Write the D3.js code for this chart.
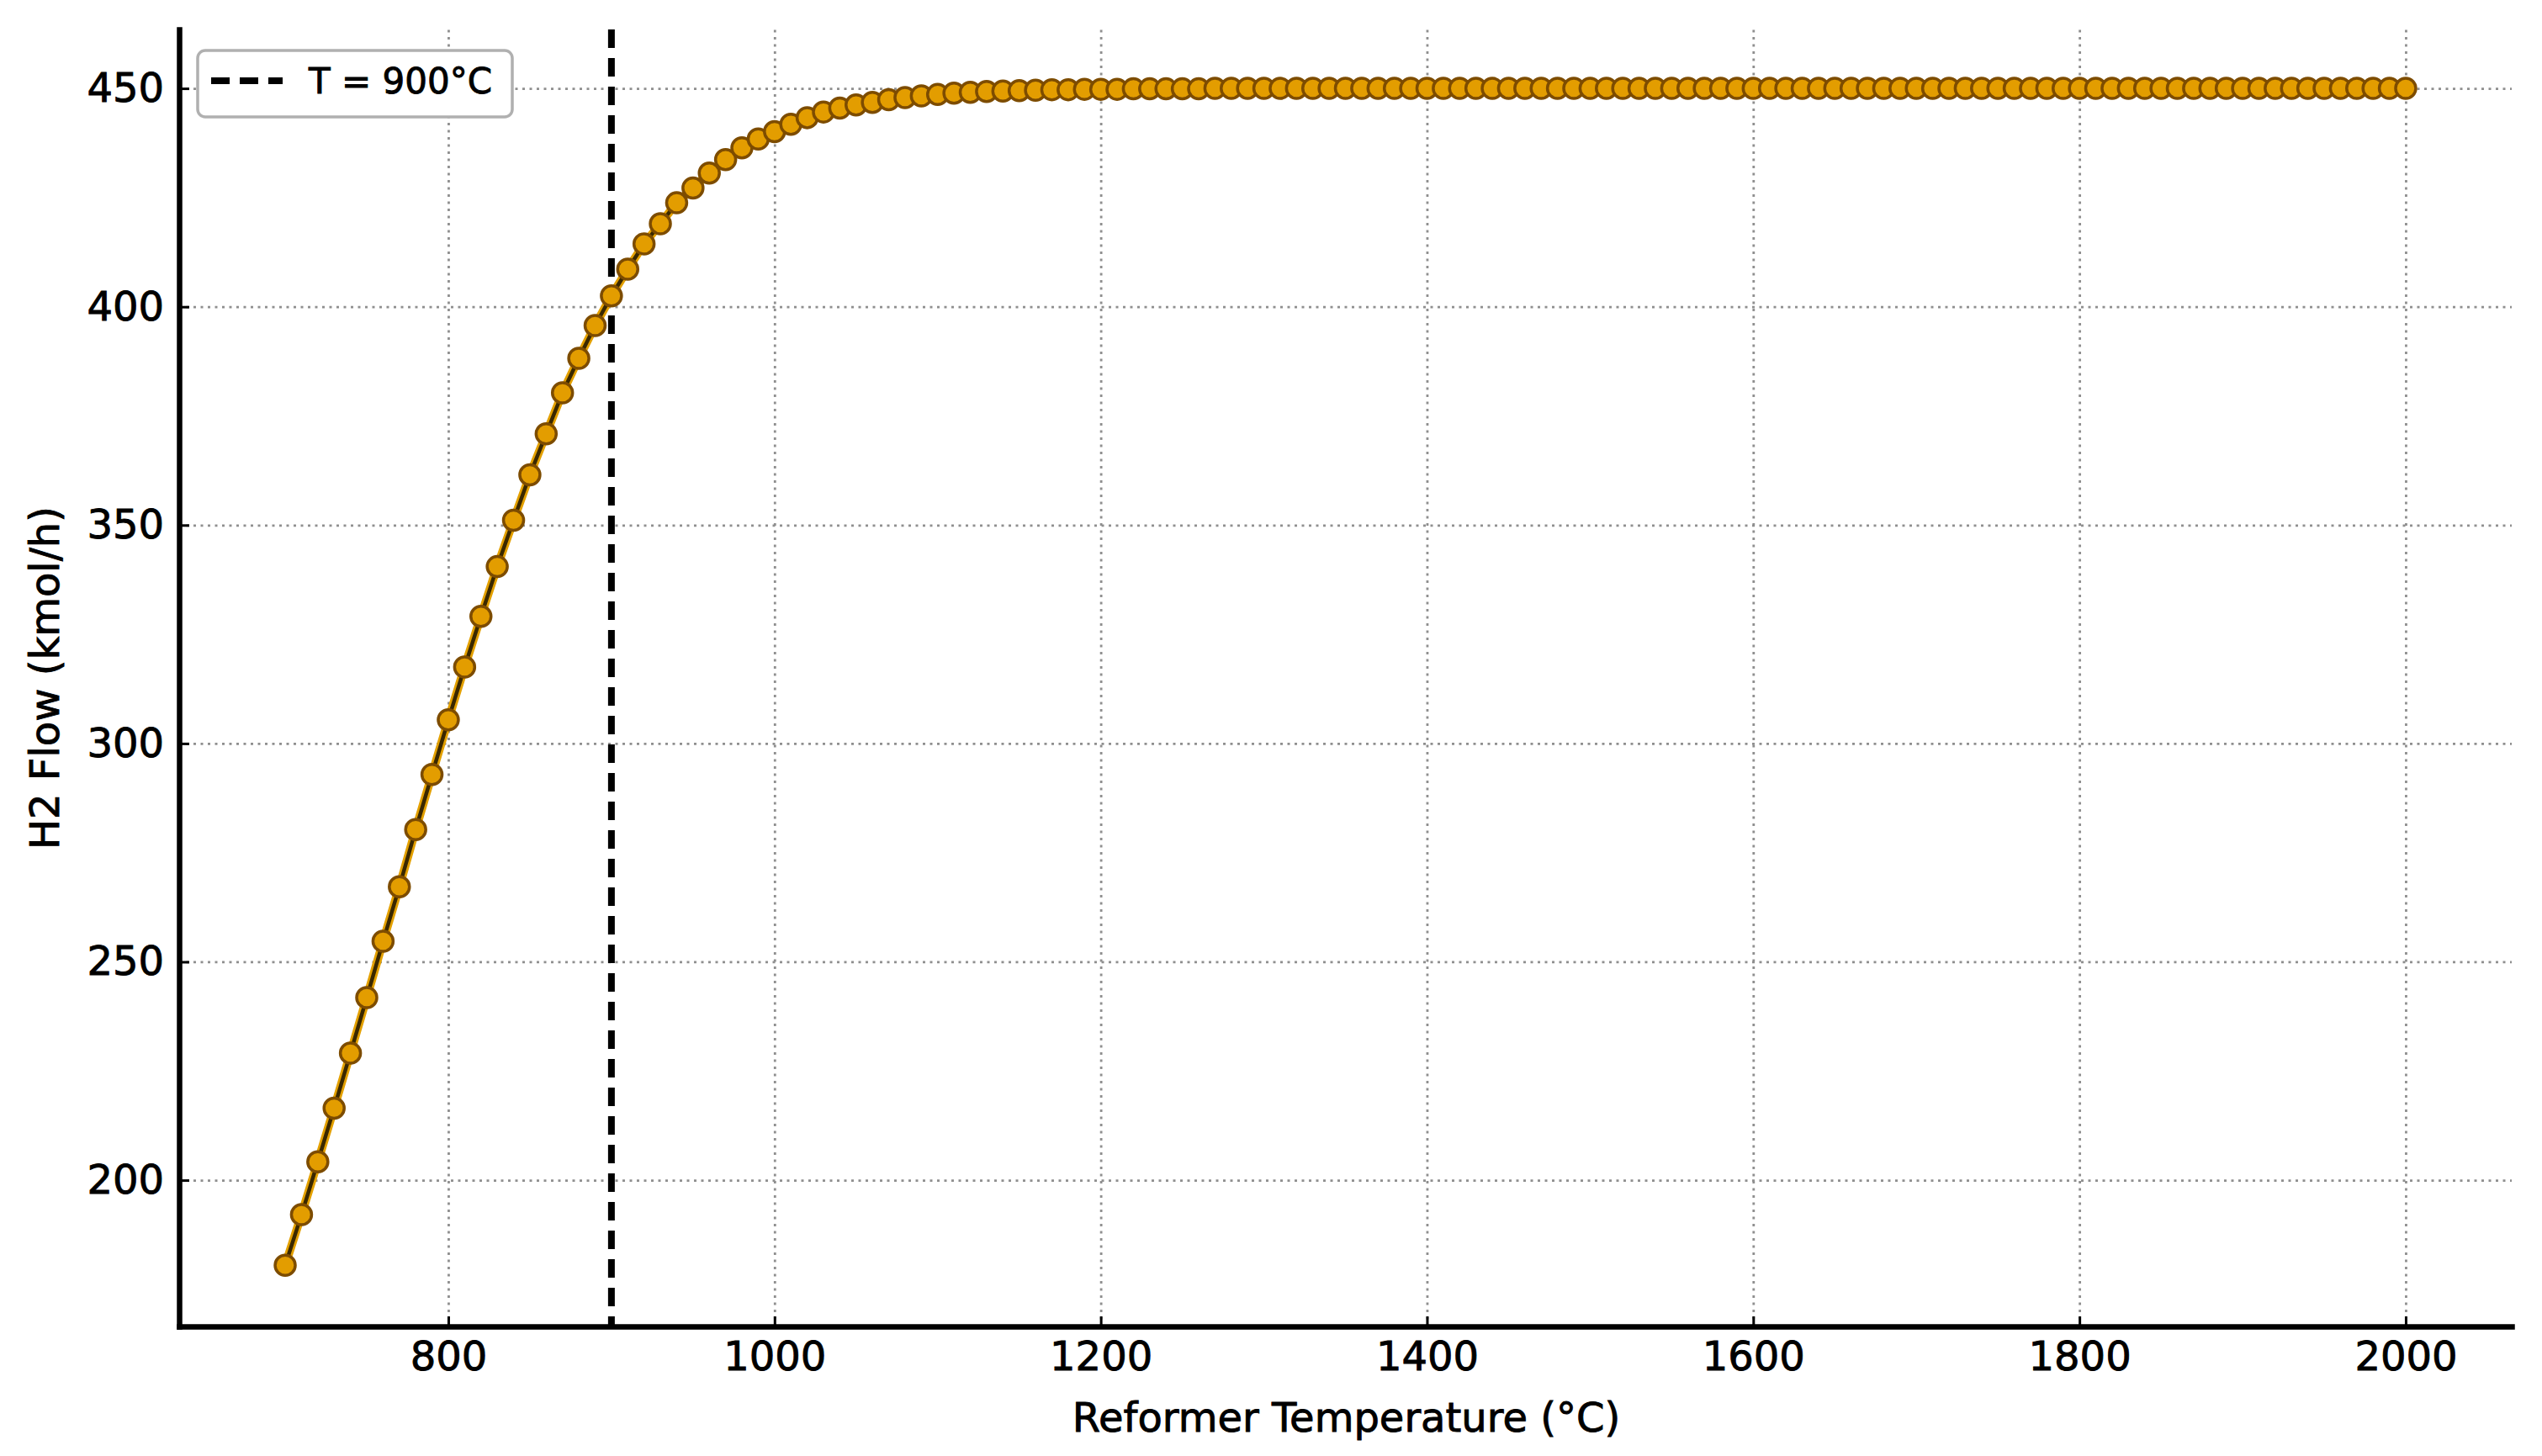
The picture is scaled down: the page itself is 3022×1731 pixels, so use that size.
<!DOCTYPE html>
<html>
<head>
<meta charset="utf-8">
<script src="https://cdn.jsdelivr.net/npm/d3@7"></script>
<style>
  html, body { margin: 0; padding: 0; background: #ffffff; }
  svg { display: block; }
  text { font-family: "DejaVu Sans", sans-serif; fill: #000; stroke: #000; stroke-width: 0.9px; }
</style>
</head>
<body>
<svg id="chart" width="3022" height="1731"></svg>
<script>
// ---------------- data ----------------
const temperatures = [
  700, 710, 720, 730, 740, 750, 760, 770, 780, 790,
  800, 810, 820, 830, 840, 850, 860, 870, 880, 890,
  900, 910, 920, 930, 940, 950, 960, 970, 980, 990,
  1000, 1010, 1020, 1030, 1040, 1050, 1060, 1070, 1080, 1090,
  1100, 1110, 1120, 1130, 1140, 1150, 1160, 1170, 1180, 1190,
  1200, 1210, 1220, 1230, 1240, 1250, 1260, 1270, 1280, 1290,
  1300, 1310, 1320, 1330, 1340, 1350, 1360, 1370, 1380, 1390,
  1400, 1410, 1420, 1430, 1440, 1450, 1460, 1470, 1480, 1490,
  1500, 1510, 1520, 1530, 1540, 1550, 1560, 1570, 1580, 1590,
  1600, 1610, 1620, 1630, 1640, 1650, 1660, 1670, 1680, 1690,
  1700, 1710, 1720, 1730, 1740, 1750, 1760, 1770, 1780, 1790,
  1800, 1810, 1820, 1830, 1840, 1850, 1860, 1870, 1880, 1890,
  1900, 1910, 1920, 1930, 1940, 1950, 1960, 1970, 1980, 1990,
  2000
];
const h2Flow = [
  180.5, 192.1, 204.2, 216.5, 229.1, 241.8, 254.7, 267.2, 280.3, 292.9,
  305.4, 317.5, 329.1, 340.5, 351.1, 361.5, 370.9, 380.3, 388.2, 395.7,
  402.5, 408.6, 414.4, 419.0, 423.8, 427.2, 430.6, 433.7, 436.4, 438.4,
  440.1, 441.8, 443.3, 444.6, 445.5, 446.2, 446.8, 447.4, 447.9, 448.3,
  448.6, 448.9, 449.1, 449.3, 449.4, 449.5, 449.6, 449.7, 449.7, 449.8,
  449.8, 449.8, 449.9, 449.9, 449.9, 449.9, 449.9, 450.0, 450.0, 450.0,
  450.0, 450.0, 450.0, 450.0, 450.0, 450.0, 450.0, 450.0, 450.0, 450.0,
  450.0, 450.0, 450.0, 450.0, 450.0, 450.0, 450.0, 450.0, 450.0, 450.0,
  450.0, 450.0, 450.0, 450.0, 450.0, 450.0, 450.0, 450.0, 450.0, 450.0,
  450.0, 450.0, 450.0, 450.0, 450.0, 450.0, 450.0, 450.0, 450.0, 450.0,
  450.0, 450.0, 450.0, 450.0, 450.0, 450.0, 450.0, 450.0, 450.0, 450.0,
  450.0, 450.0, 450.0, 450.0, 450.0, 450.0, 450.0, 450.0, 450.0, 450.0,
  450.0, 450.0, 450.0, 450.0, 450.0, 450.0, 450.0, 450.0, 450.0, 450.0,
  450.0
];
const xTicks = [800, 1000, 1200, 1400, 1600, 1800, 2000];
const yTicks = [200, 250, 300, 350, 400, 450];
const xDomain = [635, 2065];
const yDomain = [166.5, 463.5];
const refTemperature = 900;
const legendLabel = "T = 900°C";
const xLabel = "Reformer Temperature (°C)";
const yLabel = "H2 Flow (kmol/h)";

// ---------------- layout ----------------
const plot = { left: 213, right: 2986, top: 35, bottom: 1577 };
const svg = d3.select("#chart");

const x = d3.scaleLinear().domain(xDomain).range([plot.left, plot.right]);
const y = d3.scaleLinear().domain(yDomain).range([plot.bottom, plot.top]);

// grid
const gridX = svg.append("g")
  .attr("transform", `translate(0,${plot.bottom})`)
  .call(d3.axisBottom(x).tickValues(xTicks).tickSize(-(plot.bottom - plot.top)).tickFormat(""));
gridX.select(".domain").remove();
gridX.selectAll("line").attr("stroke", "#8f8f8f").attr("stroke-width", 2.8).attr("stroke-dasharray", "3,5.5");

const gridY = svg.append("g")
  .attr("transform", `translate(${plot.left},0)`)
  .call(d3.axisLeft(y).tickValues(yTicks).tickSize(-(plot.right - plot.left)).tickFormat(""));
gridY.select(".domain").remove();
gridY.selectAll("line").attr("stroke", "#8f8f8f").attr("stroke-width", 2.8).attr("stroke-dasharray", "3,5.5");

// reference vertical dashed line
svg.append("line")
  .attr("x1", x(refTemperature)).attr("x2", x(refTemperature))
  .attr("y1", plot.top).attr("y2", plot.bottom)
  .attr("stroke", "#000").attr("stroke-width", 8)
  .attr("stroke-dasharray", "22,12");

// data line
const pts = temperatures.map((t, i) => [t, h2Flow[i]]);
const lineGen = d3.line().x(d => x(d[0])).y(d => y(d[1]));
svg.append("path").datum(pts)
  .attr("d", lineGen).attr("fill", "none")
  .attr("stroke", "#e3a000").attr("stroke-width", 10).attr("stroke-linejoin", "round");
svg.append("path").datum(pts)
  .attr("d", lineGen).attr("fill", "none")
  .attr("stroke", "#3a2800").attr("stroke-width", 4.5).attr("stroke-linejoin", "round");

// markers
svg.append("g").selectAll("circle").data(pts).join("circle")
  .attr("cx", d => x(d[0])).attr("cy", d => y(d[1]))
  .attr("r", 12)
  .attr("fill", "#e39d00")
  .attr("stroke", "#7d4c00").attr("stroke-width", 3.5);

// axes
const xAxis = svg.append("g")
  .attr("transform", `translate(0,${plot.bottom})`)
  .call(d3.axisBottom(x).tickValues(xTicks).tickSizeInner(-12).tickSizeOuter(0).tickPadding(18).tickFormat(d3.format("d")));
const yAxis = svg.append("g")
  .attr("transform", `translate(${plot.left},0)`)
  .call(d3.axisLeft(y).tickValues(yTicks).tickSizeInner(-12).tickSizeOuter(0).tickPadding(18).tickFormat(d3.format("d")));

[xAxis, yAxis].forEach(a => {
  a.select(".domain").attr("stroke", "#000").attr("stroke-width", 6.5).attr("stroke-linecap", "square");
  a.selectAll(".tick line").attr("stroke", "#000").attr("stroke-width", 3);
  a.selectAll(".tick text").attr("font-family", "DejaVu Sans").attr("font-size", 48)
    .attr("fill", "#000").attr("stroke", "#000").attr("stroke-width", 0.9);
});

// axis labels
svg.append("text")
  .attr("x", (x(xDomain[0]) + x(xDomain[1])) / 2 + 1)
  .attr("y", 1702)
  .attr("text-anchor", "middle")
  .attr("font-size", 48)
  .text(xLabel);

svg.append("text")
  .attr("transform", `translate(70,${(plot.top + plot.bottom) / 2}) rotate(-90)`)
  .attr("text-anchor", "middle")
  .attr("font-size", 48)
  .text(yLabel);

// legend
const lg = svg.append("g");
lg.append("rect")
  .attr("x", 235).attr("y", 60).attr("width", 374).attr("height", 79)
  .attr("rx", 9).attr("ry", 9)
  .attr("fill", "#fff").attr("stroke", "#b0b0b0").attr("stroke-width", 3.5);
lg.append("line")
  .attr("x1", 251).attr("x2", 336).attr("y1", 96).attr("y2", 96)
  .attr("stroke", "#000").attr("stroke-width", 8).attr("stroke-dasharray", "22,12");
lg.append("text")
  .attr("x", 367).attr("y", 111)
  .attr("font-size", 42)
  .text(legendLabel);
</script>
</body>
</html>
